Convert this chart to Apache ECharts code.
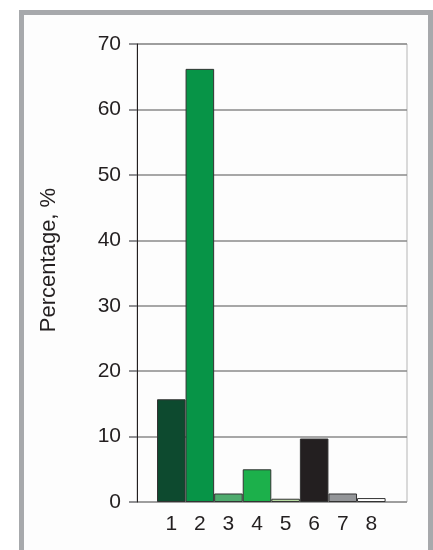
<!DOCTYPE html>
<html>
<head>
<meta charset="utf-8">
<script src="https://cdn.jsdelivr.net/npm/echarts@6/dist/echarts.min.js"></script>
<style>
html,body{margin:0;padding:0;background:#fff;}
#c{width:433px;height:550px;}
</style>
</head>
<body>
<div id="c"></div>
<script>
var categories = ['1','2','3','4','5','6','7','8'];
var values = [15.7, 66.2, 1.3, 5.0, 0.5, 9.7, 1.3, 0.6];
var barColors = ['#0d4a2f','#079447','#4fab6e','#1cb04b','#b8dca2','#231f20','#939598','#ffffff'];
var yTicks = [0,10,20,30,40,50,60,70];
var yTitle = 'Percentage, %';

var chart = echarts.init(document.getElementById('c'), null, {renderer:'canvas'});
var font = '"Liberation Sans", Arial, sans-serif';
chart.setOption({
  animation:false,
  backgroundColor:'#ffffff',
  graphic:[{
    type:'rect', z:-10, silent:true,
    shape:{x:21.5, y:12.5, width:409, height:560},
    style:{fill:'#fdfdfd', stroke:'#a7a9ac', lineWidth:5}
  }],
  grid:[
    {left:137, top:44, width:270, height:458, show:true, borderColor:'#b5b5b5', borderWidth:1, backgroundColor:'transparent'},
    {left:157, top:44, width:228.6, height:458}
  ],
  xAxis:[
    {gridIndex:0, type:'value', min:0, max:1, show:false},
    {gridIndex:1, type:'category', data:categories,
     axisLine:{show:false}, axisTick:{show:false},
     axisLabel:{color:'#231f20', fontSize:21, fontFamily:font, margin:12}}
  ],
  yAxis:[
    {gridIndex:0, type:'value', min:yTicks[0], max:yTicks[yTicks.length-1], interval:10,
     name:yTitle, nameLocation:'middle', nameGap:77, nameRotate:90,
     nameTextStyle:{color:'#231f20', fontSize:22, fontFamily:font, padding:[0,0,0,26]},
     axisLine:{show:true, lineStyle:{color:'#231f20', width:1}},
     axisTick:{show:true, length:8, inside:false, lineStyle:{color:'#6d6e71', width:1.5}},
     axisLabel:{color:'#231f20', fontSize:21, fontFamily:font, margin:16},
     splitLine:{show:true, lineStyle:{color:'#8a8a8a', width:1.5}}},
    {gridIndex:1, type:'value', min:0, max:70, show:false}
  ],
  series:[{
    type:'bar', xAxisIndex:1, yAxisIndex:1,
    barCategoryGap:'0%',
    data: values.map(function(v,i){return {value:v, itemStyle:{color:barColors[i]}};}),
    itemStyle:{borderColor:'#333333', borderWidth:1},
    z:5
  }]
});
</script>
</body>
</html>
